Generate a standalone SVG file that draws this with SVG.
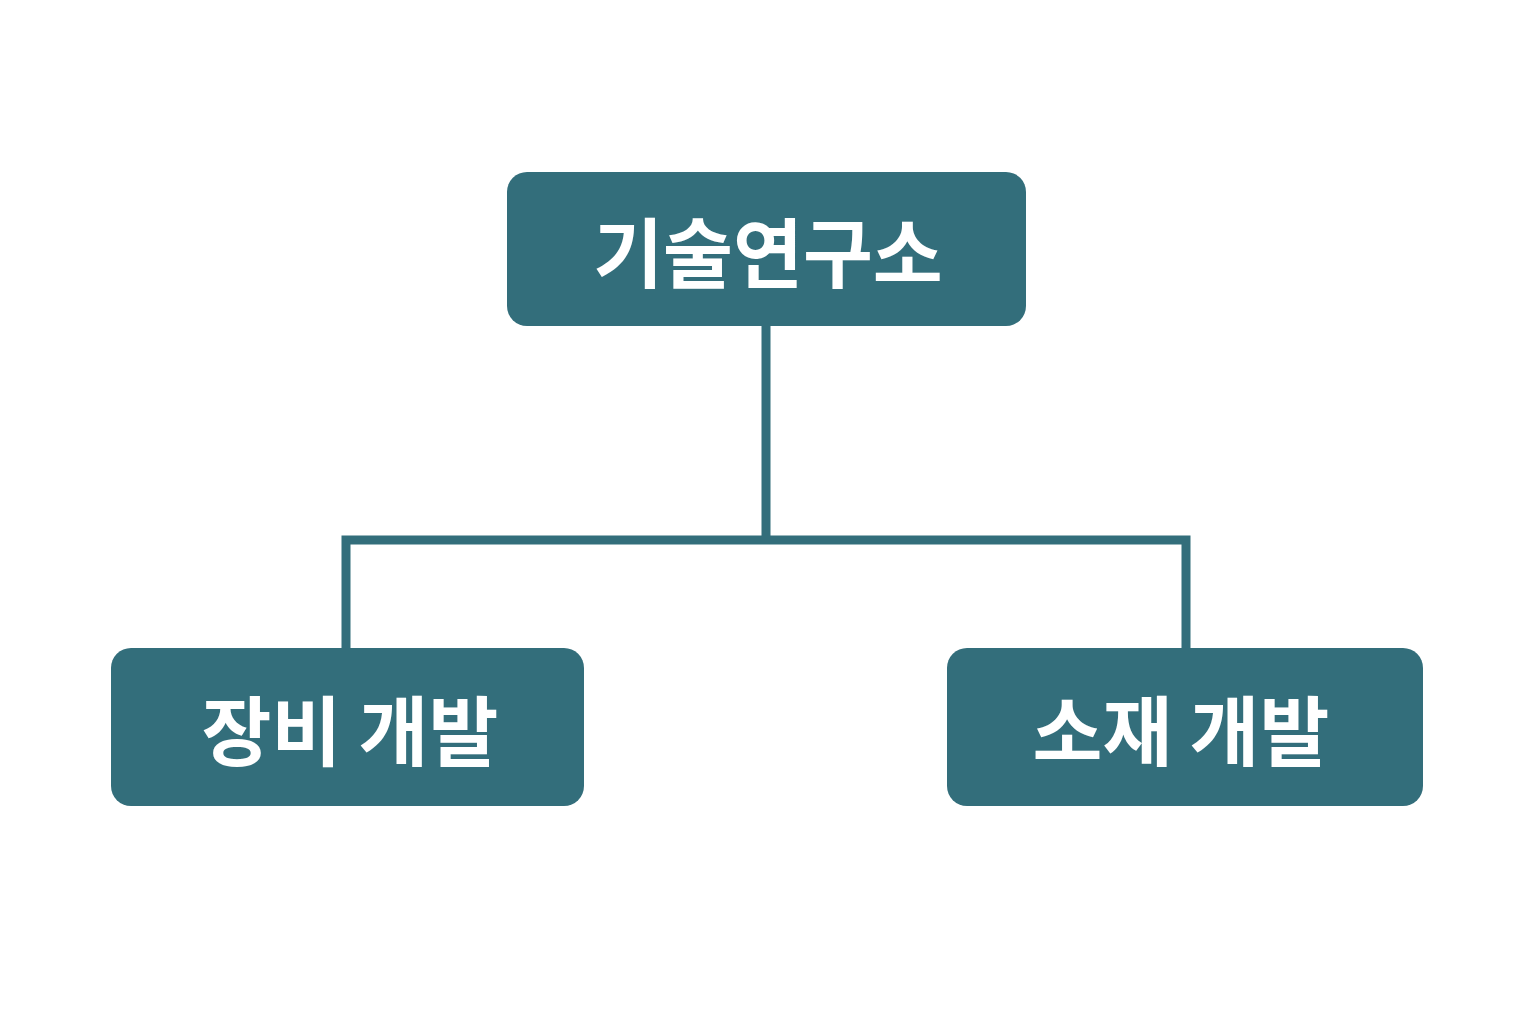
<svg xmlns="http://www.w3.org/2000/svg" width="1536" height="1024" viewBox="0 0 1536 1024">
<style>
.box{fill:#336e7b}
.t{fill:#fff;font-family:"Noto Sans CJK KR","Noto Sans",sans-serif;font-weight:700;font-size:76px;text-anchor:middle;dominant-baseline:central}
.c{stroke:#336e7b;stroke-width:9;fill:none}
</style>
<rect width="1536" height="1024" fill="#fff"/>
<g id="connectors">
<path class="c" d="M766 325V540M346 649V540H1186V649"/>
</g>
<g id="n1"><rect class="box" x="507" y="172" width="519" height="154" rx="20"/><text class="t" x="768" y="249">기술연구소</text></g>
<g id="n2"><rect class="box" x="111" y="648" width="473" height="158" rx="20"/><text class="t" x="350" y="727">장비 개발</text></g>
<g id="n3"><rect class="box" x="947" y="648" width="476" height="158" rx="20"/><text class="t" x="1181" y="727">소재 개발</text></g>
</svg>
